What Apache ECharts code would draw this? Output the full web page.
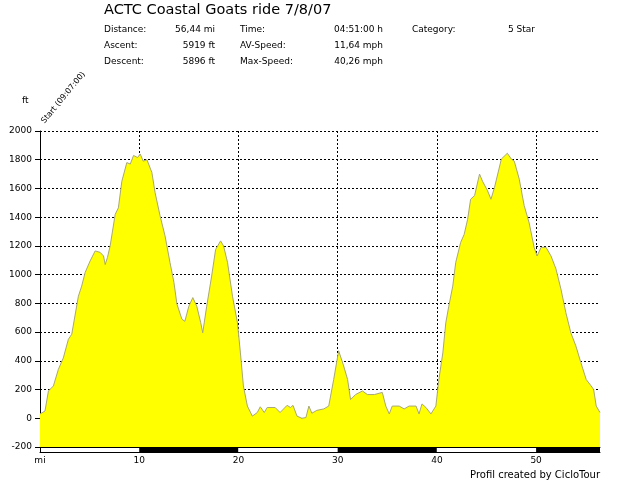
<!DOCTYPE html>
<html><head><meta charset="utf-8">
<script src="https://cdn.jsdelivr.net/npm/echarts@6/dist/echarts.min.js"></script>
<style>html,body{margin:0;padding:0;background:#fff}#c{width:640px;height:480px}</style>
</head><body><div id="c"></div>
<script>
// distance (mi)
const distances = [0,0.5,0.85,1.35,1.85,2.35,2.86,3.2,3.36,3.87,4.2,4.55,5.05,5.56,6.06,6.4,6.57,6.8,7.07,7.58,7.9,8.25,8.75,9.1,9.43,9.83,10.1,10.4,10.78,11.28,11.6,12.1,12.6,13.1,13.5,13.8,14.3,14.6,15.0,15.4,15.8,16.2,16.4,16.8,17.3,17.7,18.2,18.5,18.9,19.4,19.9,20.2,20.5,20.9,21.4,21.9,22.2,22.6,22.9,23.7,24.2,24.9,25.25,25.5,25.9,26.4,26.8,27.1,27.4,27.9,28.6,29.1,29.6,30.1,30.6,31.0,31.3,31.8,32.5,33.0,33.7,34.5,34.85,35.2,35.5,36.2,36.7,37.2,37.9,38.2,38.5,38.9,39.4,39.9,40.2,40.6,40.9,41.2,41.6,41.9,42.4,42.75,43.1,43.4,43.8,44.3,44.6,45.1,45.45,45.8,46.5,47.1,47.5,47.8,48.3,48.8,49.3,49.8,50.1,50.5,51.0,51.5,52.0,52.5,53.0,53.5,54.0,54.5,55.05,55.55,55.8,56.06,56.44];
// elevation (ft)
const elevations = [30,50,190,225,340,420,550,585,575,850,920,1015,1095,1165,1155,1130,1070,1120,1200,1420,1465,1650,1780,1770,1830,1815,1840,1790,1800,1710,1570,1410,1270,1085,945,795,690,675,780,840,780,665,595,780,990,1175,1235,1200,1085,850,665,455,225,85,15,40,80,40,75,75,40,90,75,90,15,0,5,85,35,55,65,85,270,470,365,270,130,165,190,165,165,180,85,30,85,85,65,85,85,30,100,75,30,85,270,455,665,780,920,1085,1225,1280,1385,1525,1550,1700,1650,1585,1525,1605,1805,1845,1805,1790,1665,1480,1360,1190,1130,1190,1190,1130,1040,900,735,595,505,390,270,225,200,85,40];
const title = "ACTC Coastal Goats ride 7/8/07";
const infoLabels = [["Distance:","Ascent:","Descent:"],["Time:","AV-Speed:","Max-Speed:"],["Category:"]];
const infoValues = [["56,44 mi","5919 ft","5896 ft"],["04:51:00 h","11,64 mph","40,26 mph"],["5 Star"]];
const startLabel = "Start (09:07:00)";
const yUnit = "ft";
const xUnit = "mi";
const credit = "Profil created by CicloTour";

const FONT = "DejaVu Sans";
const chart = echarts.init(document.getElementById('c'), null, {renderer:'canvas'});
const pts = distances.map((d,i)=>[d, elevations[i]]);

const graphics = [];
graphics.push({type:'text', left:104, top:3, style:{text:title, font:'14.5px "DejaVu Sans"', fill:'#000'}});
const labelX = [104, 240, 412];
const valueX = [215, 383, 508];
const valueAlign = ['right','right','left'];
const rowY = [30, 46, 62];
infoLabels.forEach((col,c)=>{
  col.forEach((t,r)=>{
    graphics.push({type:'text', x:labelX[c], y:rowY[r], style:{text:t, font:'9px "DejaVu Sans"', fill:'#000', textVerticalAlign:'middle'}});
    graphics.push({type:'text', x:valueX[c], y:rowY[r], style:{text:infoValues[c][r], font:'9px "DejaVu Sans"', fill:'#000', textAlign:valueAlign[c], textVerticalAlign:'middle'}});
  });
});
graphics.push({type:'text', x:22, y:101, style:{text:yUnit, font:'9px "DejaVu Sans"', fill:'#000', textVerticalAlign:'middle'}});
graphics.push({type:'text', x:46, y:125, rotation:Math.PI*0.28, style:{text:startLabel, font:'8px "DejaVu Sans"', fill:'#000', textAlign:'left', textVerticalAlign:'bottom'}});
graphics.push({type:'text', x:600, y:475, style:{text:credit, font:'10px "DejaVu Sans"', fill:'#000', textAlign:'right', textVerticalAlign:'middle'}});

chart.setOption({
  animation:false,
  backgroundColor:'#fff',
  textStyle:{fontFamily:FONT},
  grid:[
    {left:40, right:40, top:131, bottom:33},
    {left:40, right:40, top:447, height:5, show:false}
  ],
  xAxis:[
    {type:'value', gridIndex:0, min:0, max:56.44, interval:10,
     axisLine:{show:false}, axisTick:{show:false}, axisLabel:{show:false},
     splitLine:{show:true, showMinLine:false, showMaxLine:false, lineStyle:{color:'#000', type:[2,2], width:1}}},
    {type:'value', gridIndex:1, min:0, max:56.44, interval:10, position:'bottom',
     axisLine:{show:true, onZero:false, lineStyle:{color:'#000', width:1}}, axisTick:{show:false},
     axisLabel:{show:true, margin:4, fontSize:9, color:'#000', fontFamily:FONT,
       formatter:v=> v===0 ? xUnit : (Math.abs(v%10)<1e-6 ? String(v) : '')},
     splitLine:{show:false},
     splitArea:{show:true, areaStyle:{color:['#fff','#000']}}},
    {type:'value', gridIndex:1, min:0, max:56.44, interval:10, position:'top',
     axisLine:{show:true, onZero:false, lineStyle:{color:'#000', width:1}}, axisTick:{show:false},
     axisLabel:{show:false}, splitLine:{show:false}}
  ],
  yAxis:[
    {type:'value', gridIndex:0, min:-200, max:2000, interval:200,
     axisLine:{show:true, lineStyle:{color:'#000', width:1}},
     axisTick:{show:true, length:5, lineStyle:{color:'#000'}},
     axisLabel:{fontSize:9, color:'#000', margin:8, fontFamily:FONT, formatter:v=>String(v)},
     splitLine:{show:true, showMinLine:false, lineStyle:{color:'#000', type:[2,2], width:1}}},
    {type:'value', gridIndex:1, min:0, max:1, position:'left',
     axisLine:{show:true, onZero:false, lineStyle:{color:'#000'}}, axisTick:{show:false}, axisLabel:{show:false}, splitLine:{show:false}}
  ],
  series:[
    {type:'line', xAxisIndex:0, yAxisIndex:0, data:pts, showSymbol:false, symbol:'none',
     lineStyle:{color:'#a8a878', width:1},
     areaStyle:{color:'#ffff00', opacity:1, origin:'start'}, z:1}
  ],
  graphic:graphics
});
</script></body></html>
